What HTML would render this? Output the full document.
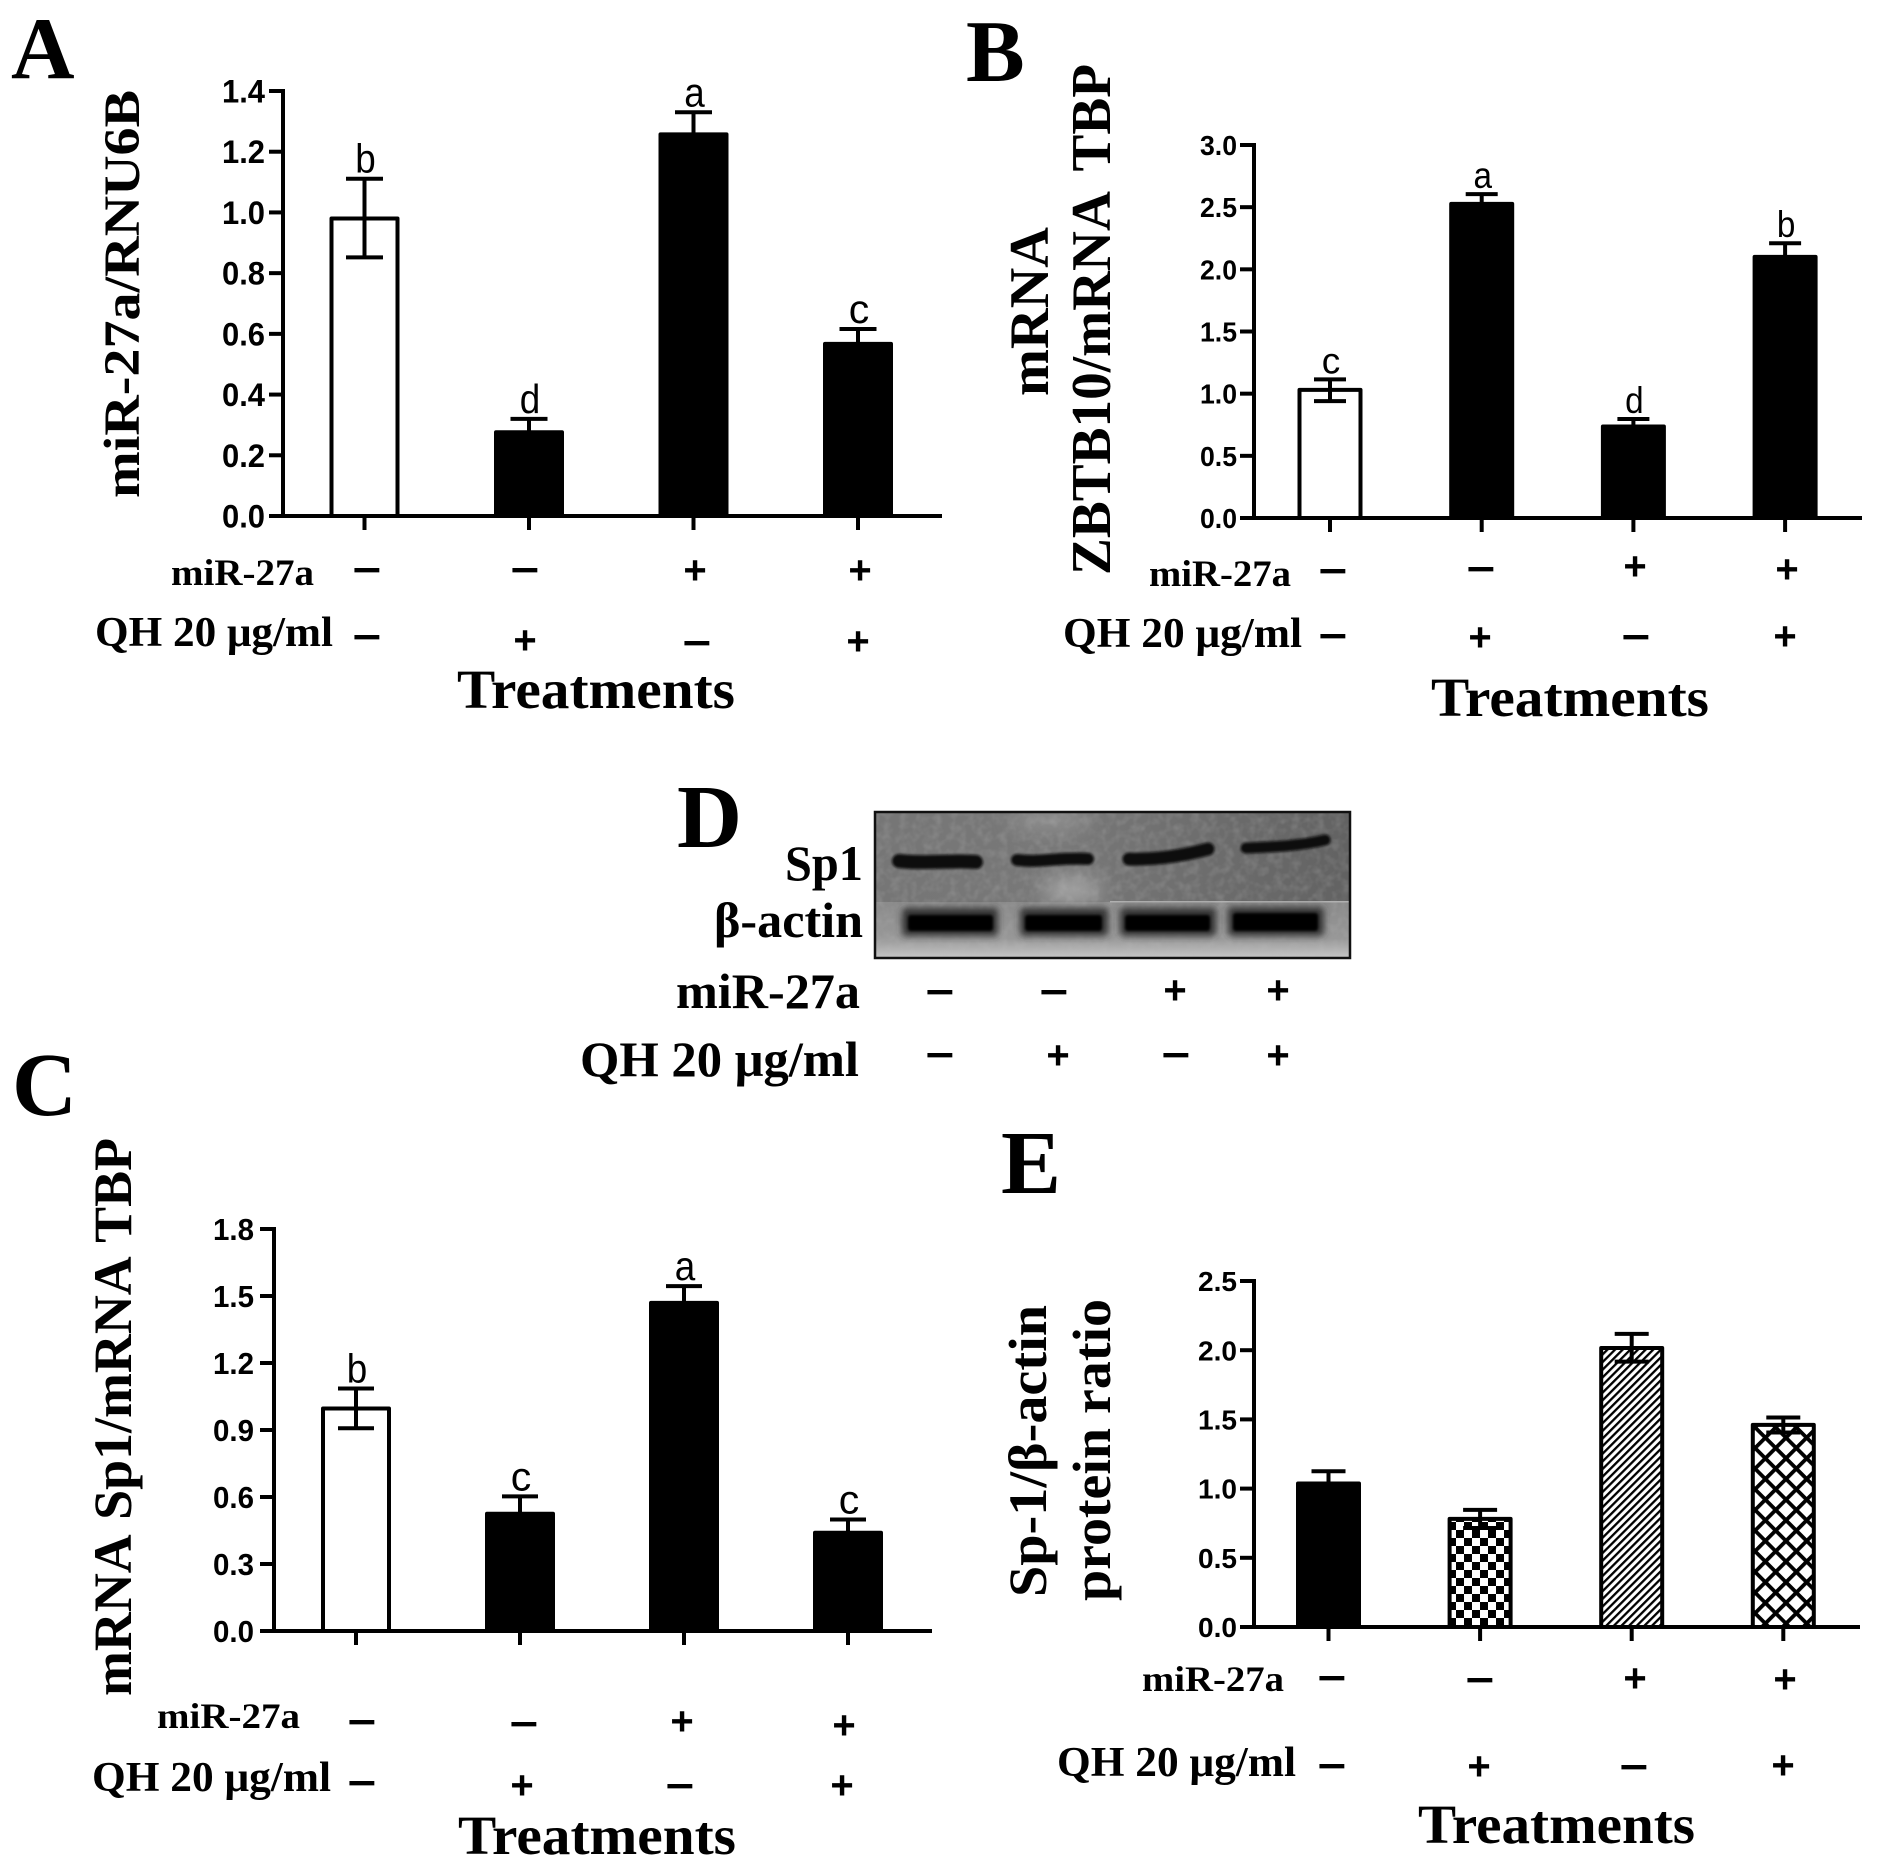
<!DOCTYPE html>
<html lang="en">
<head>
<meta charset="utf-8">
<title>miR-27a and QH treatment figure</title>
<style>
html,body{margin:0;padding:0;background:#fff;}
svg{display:block;}
.serif{font-family:"Liberation Serif","Noto Serif CJK SC",serif;font-weight:bold;fill:#000;}
.sans{font-family:"Liberation Sans",sans-serif;fill:#000;}
</style>
</head>
<body>
<svg id="figure" xmlns="http://www.w3.org/2000/svg" width="1885" height="1869" viewBox="0 0 1885 1869">
<defs>
<pattern id="pat-check" patternUnits="userSpaceOnUse" width="16" height="16" x="1448" y="1522">
<rect width="16" height="16" fill="#fff"/>
<rect width="8" height="8" fill="#000"/>
<rect x="8" y="8" width="8" height="8" fill="#000"/>
</pattern>
<pattern id="pat-stripe" patternUnits="userSpaceOnUse" width="5.4" height="5.4" patternTransform="rotate(-45)">
<rect width="5.4" height="5.4" fill="#fff"/>
<rect width="5.4" height="2.3" fill="#000"/>
</pattern>
<pattern id="pat-cross" patternUnits="userSpaceOnUse" width="14.6" height="14.6" patternTransform="rotate(45)">
<rect width="14.6" height="14.6" fill="#fff"/>
<rect width="14.6" height="3.8" fill="#000"/>
<rect width="3.8" height="14.6" fill="#000"/>
</pattern>
<linearGradient id="blot-top" x1="0" x2="1" y1="0" y2="0">
<stop offset="0" stop-color="#767676"/>
<stop offset="0.4" stop-color="#787878"/>
<stop offset="1" stop-color="#626262"/>
</linearGradient>
<linearGradient id="blot-bottom" x1="0" x2="0" y1="0" y2="1">
<stop offset="0" stop-color="#8a8a8a"/>
<stop offset="0.65" stop-color="#989898"/>
<stop offset="1" stop-color="#c6c6c6"/>
</linearGradient>
<clipPath id="blot-clip"><rect x="875" y="812" width="475" height="146"/></clipPath>
<filter id="blur-s" filterUnits="userSpaceOnUse" x="860" y="800" width="510" height="170"><feGaussianBlur stdDeviation="1.2"/></filter>
<filter id="blur-l" filterUnits="userSpaceOnUse" x="860" y="800" width="510" height="170"><feGaussianBlur stdDeviation="3.5"/></filter>
<filter id="blur-xl" filterUnits="userSpaceOnUse" x="860" y="800" width="510" height="170"><feGaussianBlur stdDeviation="10"/></filter>
<filter id="blot-noise" filterUnits="userSpaceOnUse" x="875" y="812" width="475" height="146">
<feTurbulence type="fractalNoise" baseFrequency="0.12" numOctaves="2" seed="4"/>
<feColorMatrix type="matrix" values="0 0 0 0 0.5  0 0 0 0 0.5  0 0 0 0 0.5  1.4 0 0 0 -0.55"/>
</filter>
</defs>

<!-- Panel letters -->
<text class="serif" font-size="88" x="11" y="78">A</text>
<text class="serif" font-size="88" x="966" y="81">B</text>
<text class="serif" font-size="90" x="12" y="1115">C</text>
<text class="serif" font-size="90" x="677" y="847">D</text>
<text class="serif" font-size="90" x="1001" y="1193">E</text>

<!-- Panel A labels -->
<text class="serif" font-size="51" transform="translate(139,498) rotate(-90)" textLength="408" lengthAdjust="spacingAndGlyphs">miR-27a/RNU6B</text>
<text class="serif" font-size="37" x="171" y="585" textLength="143" lengthAdjust="spacingAndGlyphs">miR-27a</text>
<text class="serif" font-size="42" x="95" y="646" textLength="238" lengthAdjust="spacingAndGlyphs">QH 20 μg/ml</text>
<text class="serif" font-size="55" x="457" y="708" textLength="278" lengthAdjust="spacingAndGlyphs">Treatments</text>

<!-- Panel B labels -->
<text class="serif" font-size="56" transform="translate(1048,396) rotate(-90)" textLength="169" lengthAdjust="spacingAndGlyphs">mRNA</text>
<text class="serif" font-size="56" word-spacing="10" transform="translate(1110,575) rotate(-90)" textLength="511" lengthAdjust="spacingAndGlyphs">ZBTB10/mRNA TBP</text>
<text class="serif" font-size="37" x="1149" y="586" textLength="142" lengthAdjust="spacingAndGlyphs">miR-27a</text>
<text class="serif" font-size="42" x="1063" y="647" textLength="239" lengthAdjust="spacingAndGlyphs">QH 20 μg/ml</text>
<text class="serif" font-size="55" x="1431" y="716" textLength="278" lengthAdjust="spacingAndGlyphs">Treatments</text>

<!-- Panel C labels -->
<text class="serif" font-size="54" word-spacing="4" transform="translate(131,1696) rotate(-90)" textLength="558" lengthAdjust="spacingAndGlyphs">mRNA Sp1/mRNA TBP</text>
<text class="serif" font-size="36" x="157" y="1728" textLength="143" lengthAdjust="spacingAndGlyphs">miR-27a</text>
<text class="serif" font-size="42" x="92" y="1791" textLength="239" lengthAdjust="spacingAndGlyphs">QH 20 μg/ml</text>
<text class="serif" font-size="55" x="458" y="1854" textLength="278" lengthAdjust="spacingAndGlyphs">Treatments</text>

<!-- Panel D blot -->
<g>
<g clip-path="url(#blot-clip)">
<rect x="875" y="812" width="475" height="90" fill="url(#blot-top)"/>
<rect x="875" y="902" width="475" height="56" fill="url(#blot-bottom)"/>
<ellipse cx="1072" cy="890" rx="30" ry="12" fill="#a8a8a8" filter="url(#blur-xl)"/>
<ellipse cx="1050" cy="820" rx="40" ry="8" fill="#979797" filter="url(#blur-xl)"/>
<rect x="875" y="812" width="475" height="90" filter="url(#blot-noise)" opacity="0.35"/>
<rect x="1110" y="901" width="240" height="1.5" fill="#b0b0b0"/>
<path d="M899 861 C925 864 950 860 976 862" stroke="#0a0a0a" stroke-width="14" stroke-linecap="round" fill="none" filter="url(#blur-s)"/>
<path d="M1017 860 C1040 863 1060 857 1088 859" stroke="#0a0a0a" stroke-width="12" stroke-linecap="round" fill="none" filter="url(#blur-s)"/>
<path d="M1129 859 C1160 860 1190 854 1208 849" stroke="#0a0a0a" stroke-width="13" stroke-linecap="round" fill="none" filter="url(#blur-s)"/>
<path d="M1246 848 C1270 847 1300 846 1325 840" stroke="#0a0a0a" stroke-width="11" stroke-linecap="round" fill="none" filter="url(#blur-s)"/>
<rect x="902" y="908" width="96" height="28" rx="4" fill="#303030" filter="url(#blur-l)"/>
<rect x="1020" y="908" width="88" height="28" rx="4" fill="#303030" filter="url(#blur-l)"/>
<rect x="1120" y="908" width="96" height="28" rx="4" fill="#303030" filter="url(#blur-l)"/>
<rect x="1228" y="907" width="96" height="29" rx="4" fill="#303030" filter="url(#blur-l)"/>
<rect x="908" y="915" width="85" height="16" rx="3" fill="#050505" filter="url(#blur-s)"/>
<rect x="1025" y="915" width="77" height="16" rx="3" fill="#050505" filter="url(#blur-s)"/>
<rect x="1125" y="915" width="85" height="16" rx="3" fill="#050505" filter="url(#blur-s)"/>
<rect x="1233" y="913" width="85" height="18" rx="3" fill="#050505" filter="url(#blur-s)"/>
</g>
<rect x="875" y="812" width="475" height="146" fill="none" stroke="#111" stroke-width="2.5"/>
</g>
<text class="serif" font-size="50" x="785" y="880" textLength="78" lengthAdjust="spacingAndGlyphs">Sp1</text>
<text class="serif" font-size="50" x="714" y="937" textLength="149" lengthAdjust="spacingAndGlyphs">β-actin</text>
<text class="serif" font-size="50" x="676" y="1008" textLength="184" lengthAdjust="spacingAndGlyphs">miR-27a</text>
<text class="serif" font-size="50" x="580" y="1076" textLength="279" lengthAdjust="spacingAndGlyphs">QH 20 μg/ml</text>

<!-- Panel E labels -->
<text class="serif" font-size="54" transform="translate(1046,1597) rotate(-90)" textLength="292" lengthAdjust="spacingAndGlyphs">Sp-1/β-actin</text>
<text class="serif" font-size="54" transform="translate(1110,1601) rotate(-90)" textLength="302" lengthAdjust="spacingAndGlyphs">protein ratio</text>
<text class="serif" font-size="36" x="1142" y="1691" textLength="142" lengthAdjust="spacingAndGlyphs">miR-27a</text>
<text class="serif" font-size="42" x="1057" y="1776" textLength="239" lengthAdjust="spacingAndGlyphs">QH 20 μg/ml</text>
<text class="serif" font-size="55" x="1418" y="1843" textLength="277" lengthAdjust="spacingAndGlyphs">Treatments</text>

<g id="charts"></g>
<g id="signs"></g>
</svg>

<script>
// ---- Chart data ----
const groups = ['control', 'qh', 'mir27a', 'mir27a-qh'];

const ticksA = ['0.0', '0.2', '0.4', '0.6', '0.8', '1.0', '1.2', '1.4'];
const meansA = [0.98, 0.276, 1.257, 0.567];
const upperA = [1.111, 0.32, 1.33, 0.616];
const lowerA = [0.852, 0.235, 1.185, 0.52];
const lettersA = ['b', 'd', 'a', 'c'];

const ticksB = ['0.0', '0.5', '1.0', '1.5', '2.0', '2.5', '3.0'];
const meansB = [1.03, 2.526, 0.736, 2.10];
const upperB = [1.115, 2.605, 0.796, 2.21];
const lowerB = [0.94, 2.45, 0.68, 2.0];
const lettersB = ['c', 'a', 'd', 'b'];

const ticksC = ['0.0', '0.3', '0.6', '0.9', '1.2', '1.5', '1.8'];
const meansC = [0.996, 0.525, 1.469, 0.44];
const upperC = [1.086, 0.603, 1.544, 0.499];
const lowerC = [0.908, 0.45, 1.40, 0.385];
const lettersC = ['b', 'c', 'a', 'c'];

const ticksE = ['0.0', '0.5', '1.0', '1.5', '2.0', '2.5'];
const meansE = [1.037, 0.781, 2.016, 1.46];
const upperE = [1.125, 0.846, 2.118, 1.514];
const lowerE = [0.95, 0.715, 1.917, 1.405];
const lettersE = ['', '', '', ''];

const mirRow = ['−', '−', '+', '+'];
const qhRow = ['−', '+', '−', '+'];

// ---- Drawing ----
const NS = 'http://www.w3.org/2000/svg';
const chartsLayer = document.getElementById('charts');
const signsLayer = document.getElementById('signs');

function make(tag, attrs, parent) {
  const el = document.createElementNS(NS, tag);
  for (const k in attrs) el.setAttribute(k, attrs[k]);
  parent.appendChild(el);
  return el;
}

function drawPanel(id, layout, ticks, means, upper, lower, letters, fills) {
  const group = make('g', {}, chartsLayer);
  
  

  const maxTick = parseFloat(ticks[ticks.length - 1]);
  const yScale = v => layout.yBase + (layout.yTop - layout.yBase) * v / maxTick;
  const xScale = i => layout.x0 + layout.step * i;
  const sw = 4;

  means.forEach((m, i) => {
    const cx = xScale(i);
    const bar = make('rect', {
      x: cx - layout.barW / 2, y: yScale(m),
      width: layout.barW, height: layout.yBase - yScale(m),
      fill: fills[i], stroke: '#000', 'stroke-width': sw, 'stroke-linejoin': 'round'
    }, group);
    
    

    const stem = make('line', {
      x1: cx, x2: cx, y1: yScale(upper[i]), y2: yScale(lower[i]),
      stroke: '#000', 'stroke-width': sw
    }, group);
    
    

    const capTop = make('line', {
      x1: cx - layout.cap / 2, x2: cx + layout.cap / 2, y1: yScale(upper[i]), y2: yScale(upper[i]),
      stroke: '#000', 'stroke-width': sw
    }, group);
    
    

    const capBottom = make('line', {
      x1: cx - layout.cap / 2, x2: cx + layout.cap / 2, y1: yScale(lower[i]), y2: yScale(lower[i]),
      stroke: '#000', 'stroke-width': sw
    }, group);
    
    

    const xTick = make('line', {
      x1: cx, x2: cx, y1: layout.yBase, y2: layout.yBase + 14,
      stroke: '#000', 'stroke-width': sw
    }, group);
    
    

    if (letters[i]) {
      const letter = make('text', {
        x: cx + 1, y: yScale(upper[i]) - 6, 'text-anchor': 'middle',
        'font-size': layout.letterSize, class: 'sans',
        textLength: layout.letterSize * 0.5, lengthAdjust: 'spacingAndGlyphs'
      }, group);
      letter.textContent = letters[i];
      
      
    }
  });

  const yAxis = make('line', {
    x1: layout.axisX, x2: layout.axisX, y1: layout.yTop - 2, y2: layout.yBase + 2,
    stroke: '#000', 'stroke-width': sw
  }, group);
  
  

  const xAxis = make('line', {
    x1: layout.axisX - 14, x2: layout.xEnd, y1: layout.yBase, y2: layout.yBase,
    stroke: '#000', 'stroke-width': sw
  }, group);
  
  

  ticks.forEach(t => {
    const y = yScale(parseFloat(t));
    const tick = make('line', {
      x1: layout.axisX - 14, x2: layout.axisX, y1: y, y2: y,
      stroke: '#000', 'stroke-width': sw
    }, group);
    
    

    const label = make('text', {
      x: layout.labelRight - layout.labelW, y: y + layout.tickSize * 0.36,
      'font-size': layout.tickSize, 'font-weight': 'bold', class: 'sans',
      textLength: layout.labelW, lengthAdjust: 'spacingAndGlyphs'
    }, group);
    label.textContent = t;
    
    
  });
}

drawPanel('a', {axisX: 283, yTop: 91, yBase: 516, xEnd: 942, x0: 364.5, step: 164.5, barW: 66, cap: 37, labelRight: 265, labelW: 43, tickSize: 32, letterSize: 41}, ticksA, meansA, upperA, lowerA, lettersA, ['#fff', '#000', '#000', '#000']);
drawPanel('b', {axisX: 1254, yTop: 145, yBase: 518, xEnd: 1862, x0: 1330, step: 151.7, barW: 61, cap: 32, labelRight: 1237, labelW: 37, tickSize: 28, letterSize: 37}, ticksB, meansB, upperB, lowerB, lettersB, ['#fff', '#000', '#000', '#000']);
drawPanel('c', {axisX: 274, yTop: 1229, yBase: 1631, xEnd: 932, x0: 356, step: 164, barW: 66, cap: 36, labelRight: 254, labelW: 41, tickSize: 31, letterSize: 41}, ticksC, meansC, upperC, lowerC, lettersC, ['#fff', '#000', '#000', '#000']);
drawPanel('e', {axisX: 1254, yTop: 1281, yBase: 1627, xEnd: 1860, x0: 1328.5, step: 151.6, barW: 61, cap: 34, labelRight: 1237, labelW: 39, tickSize: 28, letterSize: 37}, ticksE, meansE, upperE, lowerE, lettersE, ['#000', 'url(#pat-check)', 'url(#pat-stripe)', 'url(#pat-cross)']);

function drawSigns(id, rowName, symbols, xs, ys) {
  symbols.forEach((s, i) => {
    const minus = s === '−';
    const attrs = {
      x: xs[i], y: ys[i] + 13.5, 'text-anchor': 'middle',
      'font-size': 40, 'font-weight': 'bold', class: 'sans'
    };
    if (minus) {
      attrs.textLength = 29;
      attrs.lengthAdjust = 'spacingAndGlyphs';
    }
    const el = make('text', attrs, signsLayer);
    el.textContent = s;
    
    
  });
}

drawSigns('a', 'mir27a', mirRow, [367, 525, 695, 860], [570, 570, 570, 570]);
drawSigns('a', 'qh', qhRow, [367, 525, 697, 858], [637, 640, 643, 641]);
drawSigns('b', 'mir27a', mirRow, [1333, 1481, 1635, 1787], [571, 569, 566, 569]);
drawSigns('b', 'qh', qhRow, [1333, 1480, 1636, 1785], [636, 637, 637, 636]);
drawSigns('c', 'mir27a', mirRow, [362, 524, 682, 844], [1722, 1724, 1721, 1725]);
drawSigns('c', 'qh', qhRow, [362, 522, 680, 842], [1783, 1785, 1786, 1785]);
drawSigns('d', 'mir27a', mirRow, [940, 1054, 1175, 1278], [992, 992, 990, 990]);
drawSigns('d', 'qh', qhRow, [940, 1058, 1176, 1278], [1055, 1055, 1055, 1055]);
drawSigns('e', 'mir27a', mirRow, [1332, 1480, 1635, 1785], [1678, 1680, 1678, 1679]);
drawSigns('e', 'qh', qhRow, [1332, 1479, 1634, 1783], [1766, 1766, 1767, 1765]);
</script>
</body>
</html>
